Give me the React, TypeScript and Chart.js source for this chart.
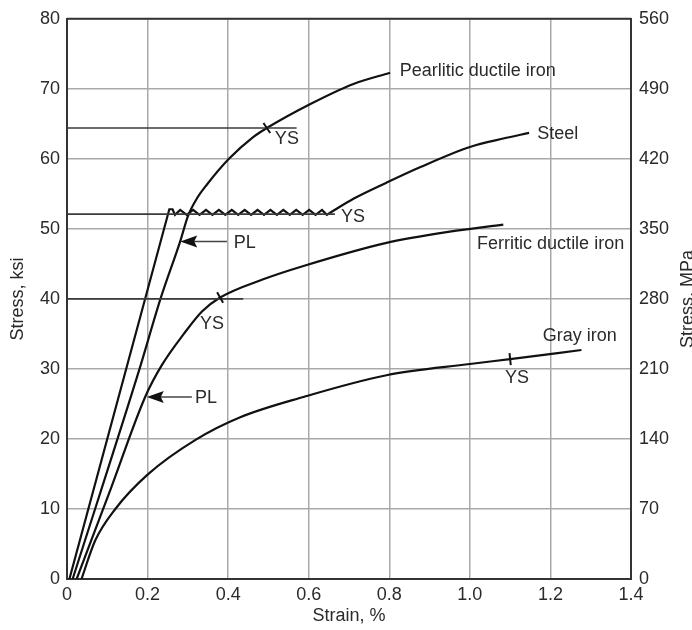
import React, { useEffect, useRef } from "react";
import { Chart, registerables } from "chart.js";

Chart.register(...registerables);

// ---- axis ticks ----
const strainTicks = [0, 0.2, 0.4, 0.6, 0.8, 1.0, 1.2, 1.4];
const ksiTicks = [0, 10, 20, 30, 40, 50, 60, 70, 80];
const mpaTicks = [0, 70, 140, 210, 280, 350, 420, 490, 560];

// ---- curves (strain %, stress ksi) ----
const steelElasticStrain = [0.006, 0.254, 0.262, 0.268, 0.281, 0.297, 0.313, 0.329, 0.345, 0.361, 0.377, 0.393, 0.409, 0.425, 0.441, 0.457, 0.473, 0.489, 0.505, 0.521, 0.537, 0.553, 0.569, 0.585, 0.601, 0.617, 0.633, 0.645, 0.653];
const steelElasticStress = [0, 52.8, 52.8, 52.0, 52.7, 52.0, 52.7, 52.0, 52.7, 52.0, 52.7, 52.0, 52.7, 52.0, 52.7, 52.0, 52.7, 52.0, 52.7, 52.0, 52.7, 52.0, 52.7, 52.0, 52.7, 52.0, 52.7, 52.0, 52.3];
const steelHardeningStrain = [0.653, 0.711, 0.793, 0.876, 1.0, 1.083, 1.147];
const steelHardeningStress = [52.3, 54.3, 56.6, 58.8, 61.7, 62.9, 63.7];

const pearliticStrain = [0.014, 0.18, 0.232, 0.282, 0.3, 0.322, 0.347, 0.402, 0.462, 0.496, 0.603, 0.711, 0.802];
const pearliticStress = [0, 30, 40, 48.4, 51.8, 54.3, 56.3, 60.0, 63.1, 64.4, 67.8, 70.7, 72.3];

const ferriticStrain = [0.024, 0.11, 0.194, 0.235, 0.29, 0.335, 0.38, 0.487, 0.587, 0.793, 0.95, 1.083];
const ferriticStress = [0, 13.1, 26.0, 30.5, 35.0, 38.2, 40.2, 42.8, 44.7, 48.0, 49.6, 50.6];

const grayStrain = [0.036, 0.07, 0.12, 0.2, 0.32, 0.43, 0.587, 0.793, 1.0, 1.1, 1.277];
const grayStress = [0, 5.5, 10, 14.9, 19.9, 23.1, 26.0, 29.1, 30.7, 31.4, 32.7];

// ---- yield-strength reference lines ----
const ysLineStress = [64.4, 52.1, 40.0];
const ysLineEndStrain = [0.57, 0.665, 0.4375];

// ---- YS tick marks on curves ----
const ysMarkStrain = [0.496, 0.38, 1.1];
const ysMarkStress = [64.4, 40.2, 31.4];
const ysMarkAngle = [56, 60, 84];

// ---- PL arrows ----
const plTipStrain = [0.281, 0.198];
const plTailStrain = [0.397, 0.31];
const plStress = [48.2, 26.0];

// ---- text annotations ----
const labelTexts = ["Pearlitic ductile iron", "Steel", "Ferritic ductile iron", "Gray iron", "YS", "YS", "YS", "YS", "PL", "PL"];
const labelStrain = [0.826, 1.167, 1.018, 1.181, 0.516, 0.68, 0.33, 1.087, 0.414, 0.318];
const labelStress = [72.5, 63.6, 47.8, 34.7, 62.9, 51.7, 36.4, 28.7, 48.0, 25.9];

const FONT_FAMILY = '"Liberation Sans", Arial, Helvetica, sans-serif';
const TEXT_COLOR = "#2a2a2a";
const LINE_COLOR = "#111";

const zip = (xs: number[], ys: number[]) => xs.map((x, i) => ({ x, y: ys[i] }));

const annotatePlugin = {
  id: "annotate",
  afterDatasetsDraw(chart: any) {
    const { ctx, chartArea } = chart;
    const xs = chart.scales.x;
    const ys = chart.scales.y;
    ctx.save();
    // top frame
    ctx.strokeStyle = "#333";
    ctx.lineWidth = 2;
    ctx.beginPath();
    ctx.moveTo(chartArea.left, chartArea.top);
    ctx.lineTo(chartArea.right, chartArea.top);
    ctx.stroke();

    // YS marks
    ctx.strokeStyle = LINE_COLOR;
    ctx.lineWidth = 2;
    ysMarkStrain.forEach((s, i) => {
      const px = xs.getPixelForValue(s);
      const py = ys.getPixelForValue(ysMarkStress[i]);
      const a = (ysMarkAngle[i] * Math.PI) / 180;
      const r = 6;
      ctx.beginPath();
      ctx.moveTo(px - Math.cos(a) * r, py - Math.sin(a) * r);
      ctx.lineTo(px + Math.cos(a) * r, py + Math.sin(a) * r);
      ctx.stroke();
    });

    // PL arrows
    plTipStrain.forEach((s, i) => {
      const tip = xs.getPixelForValue(s);
      const tail = xs.getPixelForValue(plTailStrain[i]);
      const py = ys.getPixelForValue(plStress[i]);
      ctx.strokeStyle = "#444";
      ctx.lineWidth = 1.5;
      ctx.beginPath();
      ctx.moveTo(tip + 10, py);
      ctx.lineTo(tail, py);
      ctx.stroke();
      ctx.fillStyle = "#111";
      ctx.beginPath();
      ctx.moveTo(tip, py);
      ctx.lineTo(tip + 17, py - 6);
      ctx.lineTo(tip + 14, py);
      ctx.lineTo(tip + 17, py + 6);
      ctx.closePath();
      ctx.fill();
    });

    // labels
    ctx.font = `18px ${FONT_FAMILY}`;
    ctx.fillStyle = TEXT_COLOR;
    ctx.textAlign = "left";
    ctx.textBaseline = "middle";
    labelTexts.forEach((t, i) => {
      ctx.fillText(t, xs.getPixelForValue(labelStrain[i]), ys.getPixelForValue(labelStress[i]));
    });

    // right axis title (reads bottom-to-top)
    ctx.translate(688, (chartArea.top + chartArea.bottom) / 2);
    ctx.rotate(-Math.PI / 2);
    ctx.textAlign = "center";
    ctx.fillText("Stress, MPa", 0, 0);
    ctx.restore();
  },
};

export default function App() {
  const ref = useRef<HTMLCanvasElement | null>(null);

  useEffect(() => {
    if (!ref.current) return;
    const curve = (data: any[], tension: number) => ({
      data,
      showLine: true,
      borderColor: LINE_COLOR,
      borderWidth: 2.2,
      pointRadius: 0,
      tension,
      cubicInterpolationMode: tension > 0 ? "monotone" : "default",
      xAxisID: "x",
      yAxisID: "y",
    });
    const refLine = (stress: number, end: number) => ({
      data: [
        { x: 0, y: stress },
        { x: end, y: stress },
      ],
      showLine: true,
      borderColor: "#3a3a3a",
      borderWidth: 1.6,
      pointRadius: 0,
      xAxisID: "x",
      yAxisID: "y",
    });

    const datasets: any[] = [
      ...ysLineStress.map((s, i) => refLine(s, ysLineEndStrain[i])),
      curve(zip(steelElasticStrain, steelElasticStress), 0),
      curve(zip(steelHardeningStrain, steelHardeningStress), 0.4),
      curve(zip(pearliticStrain, pearliticStress), 0.4),
      curve(zip(ferriticStrain, ferriticStress), 0.4),
      curve(zip(grayStrain, grayStress), 0.4),
    ];

    const tickFont = { family: FONT_FAMILY, size: 18 };
    const gridColor = "#a9a9a9";

    const chart = new Chart(ref.current, {
      type: "scatter",
      data: { datasets },
      plugins: [annotatePlugin],
      options: {
        animation: false,
        responsive: false,
        layout: { padding: { top: 14, left: 0, right: 0, bottom: 0 } },
        plugins: { legend: { display: false }, tooltip: { enabled: false } },
        scales: {
          x: {
            type: "linear",
            position: "bottom",
            min: 0,
            max: 1.4,
            afterBuildTicks: (s: any) => {
              s.ticks = strainTicks.map((v) => ({ value: v }));
            },
            afterFit: (s: any) => {
              s.height = 51;
            },
            ticks: {
              font: tickFont,
              color: TEXT_COLOR,
              padding: 5,
              maxRotation: 0,
              callback: (v: any) => (Number(v) === 0 ? "0" : Number(v).toFixed(1)),
            },
            grid: { color: gridColor, lineWidth: 1.5, drawTicks: false },
            border: { color: "#333", width: 2 },
            title: {
              display: true,
              text: "Strain, %",
              font: tickFont,
              color: TEXT_COLOR,
              padding: { top: 0, bottom: 3 },
            },
          },
          y: {
            type: "linear",
            position: "left",
            min: 0,
            max: 80,
            afterBuildTicks: (s: any) => {
              s.ticks = ksiTicks.map((v) => ({ value: v }));
            },
            afterFit: (s: any) => {
              s.width = 67;
            },
            ticks: { font: tickFont, color: TEXT_COLOR, padding: 7 },
            grid: { color: gridColor, lineWidth: 1.5, drawTicks: false },
            border: { color: "#333", width: 2 },
            title: {
              display: true,
              text: "Stress, ksi",
              font: tickFont,
              color: TEXT_COLOR,
              padding: { top: 7, bottom: 0 },
            },
          },
          y2: {
            type: "linear",
            position: "right",
            min: 0,
            max: 560,
            afterBuildTicks: (s: any) => {
              s.ticks = mpaTicks.map((v) => ({ value: v }));
            },
            afterFit: (s: any) => {
              s.width = 61;
            },
            ticks: { font: tickFont, color: TEXT_COLOR, padding: 8 },
            grid: { display: false, drawTicks: false },
            border: { color: "#333", width: 2 },
          },
        },
      } as any,
    });
    return () => chart.destroy();
  }, []);

  return (
    <div style={{ position: "fixed", left: 0, top: 0, width: 692, height: 630, background: "#fff" }}>
      <canvas ref={ref} width={692} height={630} style={{ display: "block" }} />
    </div>
  );
}
